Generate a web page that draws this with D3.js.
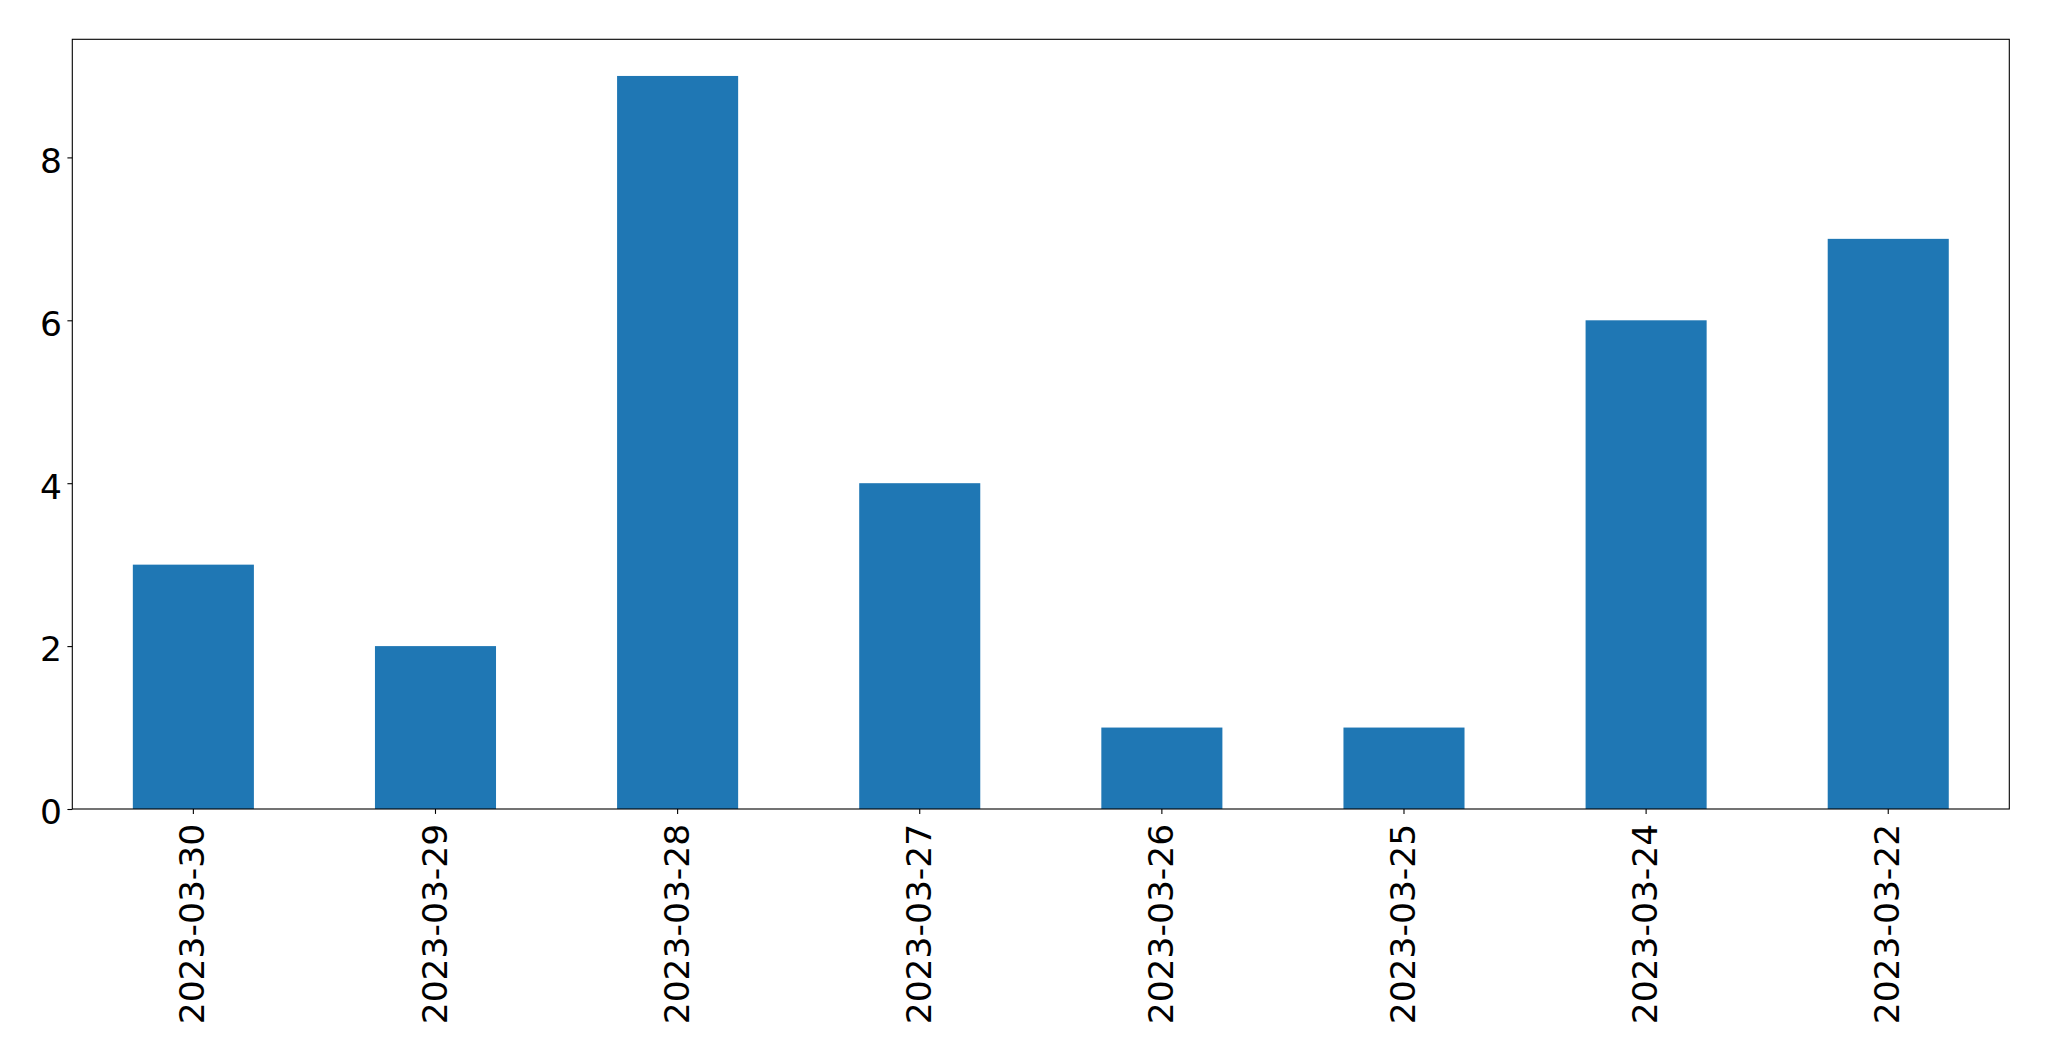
<!DOCTYPE html>
<html><head><meta charset="utf-8">
<script src="https://cdn.jsdelivr.net/npm/d3@7"></script>
<style>body{margin:0;background:#fff}svg{display:block}
text{font-family:"DejaVu Sans",sans-serif}</style>
</head><body>
<script>
const categories = ["2023-03-30","2023-03-29","2023-03-28","2023-03-27","2023-03-26","2023-03-25","2023-03-24","2023-03-22"];
const values = [3,2,9,4,1,1,6,7];
const yTicks = [0,2,4,6,8];

const W = 2049, H = 1061;
const L = 72.3, R = 2009.3, T = 39.3, B = 809;
const svg = d3.select("body").append("svg").attr("width", W).attr("height", H);

const x = d3.scaleBand().domain(categories).range([L, R]).paddingInner(0.5).paddingOuter(0.25);
const y = d3.scaleLinear().domain([0, 9.45]).range([B, T]);

svg.append("g").selectAll("rect").data(values).join("rect")
  .attr("x", (d,i) => x(categories[i]))
  .attr("width", x.bandwidth())
  .attr("y", d => y(d))
  .attr("height", d => B - y(d))
  .attr("fill", "#1f77b4");

const fs = 34.5;

const ya = svg.append("g").attr("transform", `translate(${L},0)`)
  .call(d3.axisLeft(y).tickValues(yTicks).tickFormat(d3.format("d")).tickSize(4.9).tickPadding(5.5));
ya.select(".domain").remove();
ya.attr("font-family", null).attr("font-size", null);
ya.selectAll("line").attr("stroke", "#000").attr("stroke-width", 1.1);
ya.selectAll("text").style("font-size", fs + "px").attr("fill", "#000").attr("dy", "0.43em");

const xa = svg.append("g").attr("transform", `translate(0,${B})`)
  .call(d3.axisBottom(x).tickSize(4.9).tickPadding(4.9));
xa.select(".domain").remove();
xa.attr("font-family", null).attr("font-size", null);
xa.selectAll("line").attr("stroke", "#000").attr("stroke-width", 1.1);
xa.selectAll("text").style("font-size", fs + "px").attr("fill", "#000")
  .attr("transform", "rotate(-90)")
  .attr("text-anchor", "end")
  .attr("x", -14.8).attr("y", 0).attr("dy", "0.32em");

svg.append("rect").attr("x", L).attr("y", T).attr("width", R - L).attr("height", B - T)
  .attr("fill", "none").attr("stroke", "#000").attr("stroke-width", 1.1);
</script>
</body></html>
